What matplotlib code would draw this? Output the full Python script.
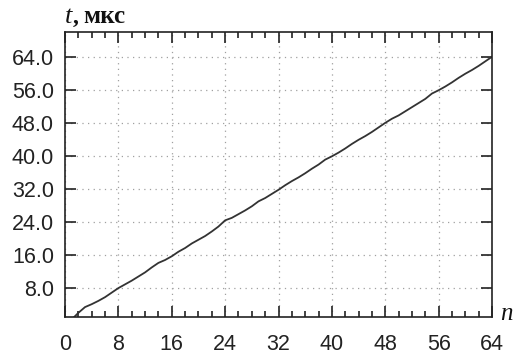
import matplotlib
matplotlib.use("Agg")
import matplotlib.pyplot as plt
from matplotlib.ticker import MultipleLocator, FormatStrFormatter

# measured points: number of elements n vs time t (мкс)
n = list(range(1, 65))
t = [0.4, 2.0, 3.4, 4.1, 4.9, 5.8, 6.9, 8.0, 8.9, 9.8,
     10.8, 11.8, 13.0, 14.1, 14.8, 15.7, 16.8, 17.7, 18.8, 19.7,
     20.6, 21.7, 22.9, 24.4, 25.0, 25.9, 26.8, 27.8, 29.0, 29.8,
     30.8, 31.8, 32.9, 33.9, 34.8, 35.8, 36.9, 37.9, 39.1, 39.9,
     40.8, 41.8, 42.9, 43.9, 44.8, 45.8, 46.9, 48.0, 49.0, 49.8,
     50.8, 51.8, 52.8, 53.8, 55.1, 55.9, 56.8, 57.8, 58.9, 59.9,
     60.8, 61.8, 62.9, 64.0]

W, H = 516, 358
fig = plt.figure(figsize=(W / 100, H / 100), dpi=100)
ax = fig.add_axes([65 / W, 1 - 317 / H, 427 / W, 285 / H])

ax.plot(n, t, color="#333333", lw=1.3)

ax.set_xlim(0, 64)
ax.set_ylim(1.0, 70)
ax.xaxis.set_major_locator(MultipleLocator(8))
ax.xaxis.set_minor_locator(MultipleLocator(2))
ax.yaxis.set_major_locator(MultipleLocator(8))
ax.yaxis.set_major_formatter(FormatStrFormatter("%.1f"))

ax.grid(True, which="major", color="#a0a0a0", lw=0.9, linestyle=(0, (1, 3.5)))

for s in ax.spines.values():
    s.set_linewidth(1.2)
    s.set_color("#222222")

ax.tick_params(which="both", direction="in", top=True, right=True,
               color="#222222", width=1.2)
ax.tick_params(which="major", length=8)
ax.tick_params(which="minor", length=4.5)
ax.tick_params(axis="x", which="major", pad=12, labelsize=15.5, labelcolor="#222222")
ax.tick_params(axis="y", which="major", pad=8, labelsize=15.5, labelcolor="#222222")
for lab in ax.get_xticklabels() + ax.get_yticklabels():
    lab.set_family("Liberation Sans")

# axis captions
base = 1 - 23 / H
fig.text(65 / W, base, "t", family="Liberation Serif", style="italic",
         fontsize=19, ha="left", va="baseline", color="#111111")
fig.text(73 / W, base, ",", family="Liberation Serif", fontweight="bold",
         fontsize=17, ha="left", va="baseline", color="#111111")
fig.text(83 / W, base, "мкс", family="Liberation Serif", fontweight="bold",
         fontsize=18, ha="left", va="baseline", color="#111111")
fig.text(500 / W, 1 - 320 / H, "n", family="Liberation Serif", style="italic",
         fontsize=18, ha="left", va="baseline", color="#111111")

fig.savefig("out.png", dpi=100)
